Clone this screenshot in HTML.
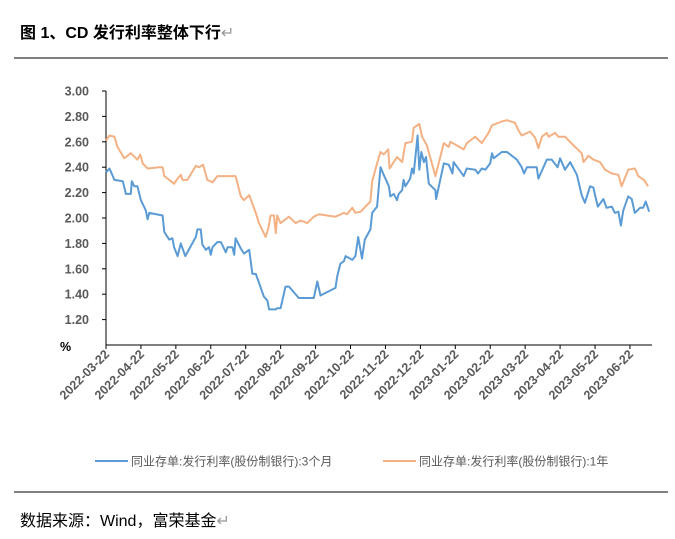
<!DOCTYPE html>
<html><head><meta charset="utf-8"><style>
body{margin:0;background:#fff;width:675px;height:539px;overflow:hidden;font-family:"Liberation Sans","Noto Sans CJK SC",sans-serif}
svg{position:absolute;left:0;top:0}
</style></head><body>
<svg id="chart" width="675" height="539">
<text x="20" y="38" font-size="16" font-weight="bold" fill="#000" font-family="Liberation Sans, Noto Sans CJK SC, sans-serif">图 1、CD 发行利率整体下行<tspan fill="#999" font-weight="normal">↵</tspan></text>
<line x1="14" y1="58" x2="668" y2="58" stroke="#000" stroke-width="1"/>
<line x1="14" y1="492" x2="668" y2="492" stroke="#000" stroke-width="1"/>
<text x="20" y="526" font-size="16" fill="#000" font-family="Liberation Sans, Noto Sans CJK SC, sans-serif">数据来源：Wind，富荣基金<tspan fill="#999">↵</tspan></text>
<g id="axes"></g>
<g id="series"></g>
<g id="legend" font-size="12" fill="#595959" font-family="Liberation Sans, Noto Sans CJK SC, sans-serif">
<line x1="95" y1="461" x2="128" y2="461" stroke="#5B9BD5" stroke-width="2"/>
<text x="131" y="465.5">同业存单:发行利率(股份制银行):3个月</text>
<line x1="383" y1="461" x2="416" y2="461" stroke="#F4B183" stroke-width="2"/>
<text x="419" y="465.5">同业存单:发行利率(股份制银行):1年</text>
</g>
</svg>
<script>
const tickLabels=["2022-03-22","2022-04-22","2022-05-22","2022-06-22","2022-07-22","2022-08-22","2022-09-22","2022-10-22","2022-11-22","2022-12-22","2023-01-22","2023-02-22","2023-03-22","2023-04-22","2023-05-22","2023-06-22"];
const yTicks=[1.2,1.4,1.6,1.8,2.0,2.2,2.4,2.6,2.8,3.0];
const tBlue=[0,.10,.24,.48,.57,.71,.74,.81,.90,1.00,1.14,1.19,1.24,1.62,1.67,1.81,1.90,1.95,2.05,2.14,2.27,2.57,2.62,2.71,2.76,2.86,2.95,3.00,3.05,3.19,3.29,3.43,3.48,3.62,3.67,3.71,3.86,3.95,4.10,4.19,4.29,4.38,4.52,4.62,4.67,4.86,4.90,5.00,5.14,5.24,5.52,5.95,6.05,6.14,6.57,6.62,6.71,6.81,6.86,7.05,7.14,7.22,7.33,7.41,7.57,7.62,7.76,7.86,7.95,8.10,8.14,8.24,8.33,8.38,8.48,8.52,8.57,8.71,8.76,8.81,8.92,8.97,9.03,9.10,9.16,9.24,9.43,9.45,9.67,9.81,9.92,9.95,10.24,10.33,10.57,10.65,10.76,10.86,11.00,11.05,11.10,11.33,11.48,11.62,11.76,11.90,11.97,12.05,12.33,12.38,12.62,12.76,12.93,13.00,13.14,13.29,13.48,13.62,13.71,13.86,13.95,14.08,14.24,14.33,14.48,14.57,14.67,14.74,14.81,14.95,15.05,15.14,15.29,15.38,15.45,15.55];
const vBlue=[2.36,2.39,2.30,2.29,2.19,2.19,2.29,2.25,2.25,2.14,2.06,1.99,2.04,2.02,1.89,1.83,1.84,1.77,1.70,1.80,1.70,1.85,1.91,1.91,1.79,1.75,1.77,1.71,1.77,1.81,1.81,1.73,1.77,1.77,1.71,1.84,1.76,1.72,1.75,1.56,1.56,1.49,1.38,1.35,1.28,1.28,1.29,1.29,1.46,1.46,1.37,1.37,1.50,1.39,1.45,1.54,1.64,1.66,1.70,1.67,1.70,1.85,1.68,1.83,1.91,2.04,2.09,2.40,2.34,2.25,2.17,2.19,2.14,2.19,2.22,2.30,2.25,2.31,2.39,2.35,2.65,2.38,2.52,2.44,2.48,2.27,2.22,2.15,2.43,2.42,2.35,2.44,2.33,2.39,2.38,2.35,2.39,2.38,2.43,2.51,2.47,2.52,2.52,2.49,2.46,2.40,2.35,2.40,2.40,2.31,2.46,2.46,2.40,2.47,2.38,2.44,2.34,2.18,2.12,2.25,2.24,2.09,2.15,2.08,2.09,2.04,2.05,1.94,2.06,2.17,2.15,2.04,2.08,2.08,2.13,2.05];
const tOrange=[0,.10,.24,.33,.52,.71,.90,.98,1.05,1.19,1.52,1.62,1.67,1.95,2.05,2.14,2.19,2.33,2.57,2.67,2.78,2.90,3.05,3.19,3.62,3.71,3.86,3.95,4.10,4.29,4.38,4.57,4.65,4.71,4.81,4.86,4.90,5.00,5.24,5.43,5.57,5.76,5.95,6.10,6.57,6.81,6.90,7.05,7.14,7.29,7.57,7.62,7.76,7.86,7.95,8.08,8.12,8.33,8.48,8.57,8.76,8.81,8.97,9.05,9.19,9.43,9.67,9.81,9.86,10.24,10.33,10.43,10.57,10.76,10.95,11.05,11.33,11.48,11.71,11.81,11.90,12.14,12.29,12.38,12.48,12.62,12.67,12.86,12.95,13.14,13.43,13.62,13.67,13.81,13.95,14.14,14.29,14.48,14.67,14.76,14.95,15.14,15.24,15.40,15.52];
const vOrange=[2.61,2.65,2.64,2.56,2.47,2.51,2.46,2.50,2.43,2.39,2.40,2.40,2.33,2.27,2.31,2.34,2.30,2.30,2.41,2.40,2.42,2.30,2.28,2.33,2.33,2.33,2.17,2.14,2.18,2.04,1.96,1.85,1.92,2.02,2.02,1.88,2.02,1.96,2.01,1.96,1.98,1.96,2.01,2.03,2.01,2.04,2.03,2.08,2.04,2.05,2.13,2.29,2.43,2.52,2.50,2.54,2.39,2.48,2.44,2.59,2.60,2.71,2.74,2.64,2.57,2.33,2.59,2.56,2.60,2.54,2.59,2.61,2.64,2.59,2.67,2.73,2.76,2.77,2.75,2.69,2.65,2.68,2.63,2.55,2.64,2.67,2.64,2.67,2.64,2.64,2.56,2.51,2.44,2.49,2.46,2.44,2.38,2.35,2.34,2.25,2.38,2.39,2.33,2.30,2.25];
const X0=106,MW=34.93,Y0=345,YT=91,X1=652;
const xs=t=>X0+t*MW;
const ys=v=>Y0-(v-1)/2*(Y0-YT);
const NS="http://www.w3.org/2000/svg";
const ax=document.getElementById('axes'),se=document.getElementById('series');
function mk(tag,attrs,parent){const e=document.createElementNS(NS,tag);for(const k in attrs)e.setAttribute(k,attrs[k]);parent.appendChild(e);return e;}
let e=mk('line',{x1:X0,y1:YT,x2:X0,y2:Y0,stroke:'#000','stroke-width':1},ax);


e=mk('line',{x1:X0,y1:Y0,x2:X1,y2:Y0,stroke:'#000','stroke-width':1},ax);


yTicks.forEach(v=>{
  const y=ys(v);
  let t=mk('line',{x1:X0-4,y1:y,x2:X0,y2:y,stroke:'#000'},ax);
  
  
  let l=mk('text',{x:89,y:y+4.5,'text-anchor':'end','font-size':12.5,'font-weight':'bold',fill:'#595959'},ax);
  l.textContent=v.toFixed(2);
  
  
});
let pc=mk('text',{x:60,y:351,'font-size':12.5,'font-weight':'bold',fill:'#000'},ax);
pc.textContent='%';


tickLabels.forEach((s,i)=>{
  const x=xs(i);
  let t=mk('line',{x1:x,y1:Y0,x2:x,y2:Y0+4,stroke:'#000'},ax);
  
  
  let l=mk('text',{x:x+4,y:Y0+10,'text-anchor':'end','font-size':12.5,'font-weight':'bold',fill:'#595959',transform:`rotate(-45 ${x+4} ${Y0+10})`},ax);
  l.textContent=s;
  
  
});
function line(ts,vs,color,name){
  const d=ts.map((t,i)=>(i?'L':'M')+xs(t).toFixed(1)+' '+ys(vs[i]).toFixed(1)).join(' ');
  const p=mk('path',{d:d,fill:'none',stroke:color,'stroke-width':2,'stroke-linejoin':'round'},se);
  
  
}
line(tOrange,vOrange,'#F4B183','series-1y');
line(tBlue,vBlue,'#5B9BD5','series-3m');
</script>
</body></html>
